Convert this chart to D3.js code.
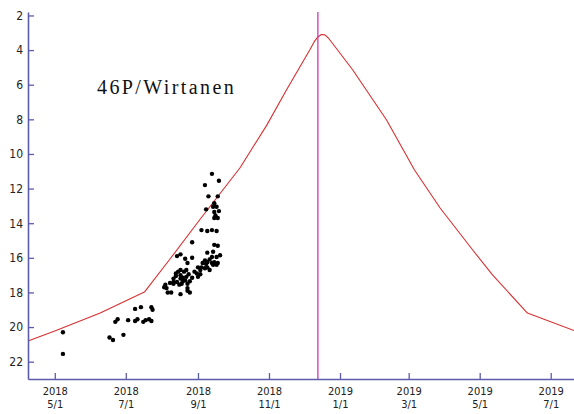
<!DOCTYPE html>
<html>
<head>
<meta charset="utf-8">
<script src="https://cdn.jsdelivr.net/npm/d3@7"></script>
<style>
  html, body { margin: 0; padding: 0; background: #fff; }
  svg { display: block; }
</style>
</head>
<body>
<svg id="chart" width="574" height="414"></svg>
<script>
// ---- data ----
const title = "46P/Wirtanen";
const xDomain = ["2018-04-08", "2019-07-21"];
const yDomain = [1.8, 23];
const yTicks = [2, 4, 6, 8, 10, 12, 14, 16, 18, 20, 22];
const xTickDates = ["2018-05-01", "2018-07-01", "2018-09-01", "2018-11-01",
                    "2019-01-01", "2019-03-01", "2019-05-01", "2019-07-01"];
const xTickYears = ["2018", "2018", "2018", "2018", "2019", "2019", "2019", "2019"];
const xTickDays  = ["5/1", "7/1", "9/1", "11/1", "1/1", "3/1", "5/1", "7/1"];
const markerDate = "2018-12-13";

// predicted light curve
const curveDates = ["2018-04-08", "2018-05-01", "2018-06-09", "2018-07-17", "2018-08-08",
  "2018-09-03", "2018-10-07", "2018-10-30", "2018-11-16", "2018-12-06", "2018-12-10",
  "2018-12-13", "2018-12-16", "2018-12-19", "2018-12-22", "2018-12-26", "2019-01-12",
  "2019-02-10", "2019-03-06", "2019-03-28", "2019-04-25", "2019-05-12", "2019-06-11",
  "2019-07-21"];
const curveMags = [20.8, 20.23, 19.19, 17.98, 16.07,
  13.76, 10.81, 8.35, 6.31, 4.0, 3.5,
  3.24, 3.1, 3.12, 3.3, 3.65, 5.15,
  8.04, 10.93, 13.12, 15.55, 16.99, 19.19,
  20.2];

// observations
const obsDates = ["2018-05-08", "2018-05-08", "2018-06-17", "2018-06-20", "2018-06-29",
  "2018-06-22", "2018-06-24", "2018-07-03", "2018-07-09", "2018-07-11",
  "2018-07-09", "2018-07-14", "2018-07-16", "2018-07-18", "2018-07-21",
  "2018-07-23", "2018-07-23", "2018-07-24", "2018-08-03", "2018-08-05",
  "2018-08-06", "2018-08-09", "2018-08-17", "2018-08-04", "2018-08-08",
  "2018-08-11", "2018-08-23", "2018-08-23", "2018-08-25", "2018-08-15",
  "2018-08-17", "2018-08-20", "2018-08-22", "2018-08-17", "2018-08-21",
  "2018-08-14", "2018-08-18", "2018-08-23", "2018-08-27", "2018-08-13",
  "2018-08-19", "2018-08-24", "2018-08-16", "2018-08-25", "2018-08-11",
  "2018-08-29", "2018-08-31", "2018-09-01", "2018-08-11", "2018-08-22",
  "2018-08-14", "2018-08-17", "2018-08-21", "2018-08-27", "2018-08-23",
  "2018-08-27", "2018-09-09", "2018-09-14", "2018-09-13", "2018-09-17",
  "2018-09-20", "2018-09-07", "2018-09-05", "2018-09-04", "2018-09-09",
  "2018-09-13", "2018-09-15", "2018-09-18", "2018-09-01", "2018-09-03",
  "2018-09-07", "2018-09-09", "2018-09-11", "2018-09-17", "2018-09-03",
  "2018-09-15", "2018-09-18", "2018-09-04", "2018-09-09", "2018-09-13",
  "2018-09-17", "2018-09-13", "2018-09-07", "2018-09-19", "2018-09-10",
  "2018-09-18", "2018-09-08", "2018-09-14", "2018-09-15", "2018-09-17",
  "2018-09-15", "2018-09-16", "2018-09-18", "2018-09-15", "2018-09-19",
  "2018-08-17", "2018-08-13", "2018-08-19", "2018-09-14", "2018-09-11",
  "2018-09-08"];
const obsMags = [20.3, 21.55, 20.6, 20.75, 20.45,
  19.7, 19.55, 19.6, 19.65, 19.55,
  18.95, 18.85, 19.7, 19.6, 19.55,
  19.65, 18.85, 19.0, 17.7, 17.75,
  18.0, 18.0, 18.1, 17.55, 17.45,
  17.4, 17.75, 17.9, 18.0, 16.8,
  17.0, 16.8, 17.1, 17.2, 17.3,
  17.4, 17.5, 17.5, 17.15, 17.05,
  17.15, 16.95, 17.55, 17.35, 17.2,
  16.8, 16.9, 17.1, 17.5, 16.7,
  15.9, 15.8, 16.05, 16.0, 16.3,
  15.1, 15.7, 15.65, 15.95, 15.95,
  15.85, 16.15, 16.3, 16.55, 16.25,
  16.3, 16.25, 16.3, 16.55, 16.7,
  16.6, 16.55, 16.7, 16.4, 16.95,
  15.25, 15.3, 14.4, 14.45, 14.4,
  14.45, 11.15, 11.8, 11.55, 12.45,
  12.45, 13.2, 13.05, 12.85, 13.05,
  13.35, 13.55, 13.7, 13.7, 13.3,
  16.7, 16.9, 17.35, 16.4, 16.1,
  16.35];

// ---- drawing ----
const parse = d3.utcParse("%Y-%m-%d");
const svg = d3.select("#chart");
const mLeft = 28, mRight = 574, mTop = 12, mBottom = 379;
const axisColor = "#5c5cac";
const labelFont = "DejaVu Sans Condensed";

const x = d3.scaleUtc().domain(xDomain.map(parse)).range([mLeft, mRight]);
const y = d3.scaleLinear().domain(yDomain).range([mTop, mBottom]);

// curve
const curve = curveDates.map((d, i) => ({ date: parse(d), mag: curveMags[i] }));
svg.append("path")
  .datum(curve)
  .attr("fill", "none")
  .attr("stroke", "#d83030")
  .attr("stroke-width", 1.1)
  .attr("stroke-linejoin", "round")
  .attr("d", d3.line().x(d => x(d.date)).y(d => y(d.mag)));

// marker line
svg.append("line")
  .attr("x1", x(parse(markerDate))).attr("x2", x(parse(markerDate)))
  .attr("y1", mTop).attr("y2", mBottom)
  .attr("stroke", "#c838c8").attr("stroke-width", 1.3);

// observations
const obs = obsDates.map((d, i) => ({ date: parse(d), mag: obsMags[i] }));
svg.append("g").selectAll("circle")
  .data(obs).join("circle")
  .attr("cx", d => x(d.date))
  .attr("cy", d => y(d.mag))
  .attr("r", 2.2)
  .attr("fill", "#000");

// y axis
const yAxis = d3.axisLeft(y).tickValues(yTicks).tickSize(-6).tickSizeOuter(0).tickPadding(5)
  .tickFormat(d3.format("d"));
const gy = svg.append("g").attr("transform", `translate(${mLeft},0)`).call(yAxis);
gy.select(".domain").attr("stroke", axisColor).attr("stroke-width", 1.6);
gy.selectAll(".tick line").attr("stroke", axisColor).attr("stroke-width", 1.3);
gy.selectAll(".tick text")
  .attr("font-family", labelFont)
  .attr("font-size", 12)
  .attr("fill", "#222");

// x axis
const xTicks = xTickDates.map(parse);
const xAxis = d3.axisBottom(x).tickValues(xTicks).tickSize(-6).tickSizeOuter(0).tickFormat("");
const gx = svg.append("g").attr("transform", `translate(0,${mBottom})`).call(xAxis);
gx.select(".domain").attr("stroke", axisColor).attr("stroke-width", 1.6);
gx.selectAll(".tick line").attr("stroke", axisColor).attr("stroke-width", 1.3);
gx.selectAll(".tick").each(function (d, i) {
  const g = d3.select(this);
  g.append("text")
    .attr("font-family", labelFont).attr("font-size", 11)
    .attr("fill", "#222").attr("text-anchor", "middle")
    .attr("x", 0).attr("y", 16).text(xTickYears[i]);
  g.append("text")
    .attr("font-family", labelFont).attr("font-size", 11)
    .attr("fill", "#222").attr("text-anchor", "middle")
    .attr("x", 0).attr("y", 29).text(xTickDays[i]);
});

// title
svg.append("text")
  .attr("x", 97).attr("y", 94)
  .attr("font-family", "Liberation Serif")
  .attr("font-size", 20)
  .attr("letter-spacing", 2.4)
  .attr("fill", "#111")
  .text(title);
</script>
</body>
</html>
